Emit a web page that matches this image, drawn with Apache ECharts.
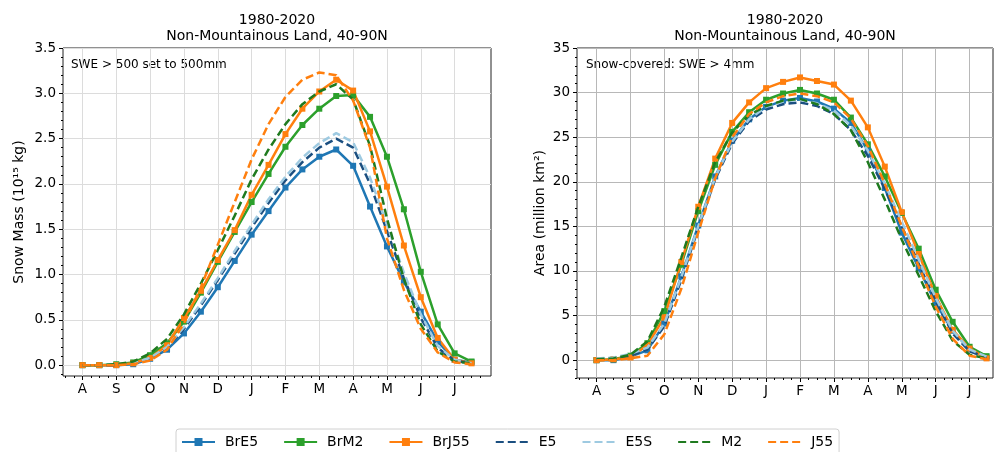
<!DOCTYPE html>
<html lang="en">
<head>
    <meta charset="UTF-8">
    <title>Snow Mass / Area 1980-2020</title>
    <script src="https://cdn.jsdelivr.net/npm/echarts@6/dist/echarts.min.js"></script>
    <style>
        html, body { margin: 0; padding: 0; background: #fff; }
        #main { width: 995px; height: 452px; }
    </style>
</head>
<body>
<div id="main"></div>
<script>
    // month tick labels (Aug .. Jul), points are twice a month
    var monthLabels = ['A', 'S', 'O', 'N', 'D', 'J', 'F', 'M', 'A', 'M', 'J', 'J'];
    var xPos = [0, 0.5, 1, 1.5, 2, 2.5, 3, 3.5, 4, 4.5, 5, 5.5, 6, 6.5, 7, 7.5, 8, 8.5, 9, 9.5, 10, 10.5, 11, 11.5];

    // left panel: snow mass (10^15 kg)
    var massBrE5  = [0.00, 0.00, 0.00, 0.01, 0.07, 0.17, 0.35, 0.59, 0.86, 1.15, 1.44, 1.70, 1.96, 2.16, 2.30, 2.38, 2.20, 1.75, 1.31, 0.92, 0.59, 0.26, 0.06, 0.03];
    var massBrM2  = [0.00, 0.00, 0.01, 0.03, 0.11, 0.24, 0.48, 0.80, 1.14, 1.47, 1.80, 2.11, 2.41, 2.65, 2.83, 2.97, 2.98, 2.74, 2.30, 1.72, 1.03, 0.45, 0.13, 0.04];
    var massBrJ55 = [0.00, 0.00, 0.00, 0.02, 0.08, 0.22, 0.52, 0.82, 1.16, 1.49, 1.88, 2.21, 2.55, 2.83, 3.02, 3.15, 3.03, 2.58, 1.97, 1.32, 0.75, 0.30, 0.06, 0.02];
    var massE5    = [0.00, 0.00, 0.00, 0.02, 0.07, 0.19, 0.40, 0.66, 0.94, 1.23, 1.52, 1.79, 2.04, 2.24, 2.40, 2.50, 2.40, 2.00, 1.48, 0.96, 0.52, 0.19, 0.05, 0.02];
    var massE5S   = [0.00, 0.00, 0.01, 0.02, 0.08, 0.20, 0.42, 0.68, 0.96, 1.26, 1.55, 1.83, 2.08, 2.29, 2.45, 2.56, 2.46, 2.07, 1.55, 1.02, 0.56, 0.21, 0.06, 0.02];
    var massM2    = [0.00, 0.00, 0.01, 0.04, 0.13, 0.29, 0.56, 0.90, 1.27, 1.65, 2.05, 2.38, 2.66, 2.88, 3.02, 3.10, 2.93, 2.42, 1.62, 0.95, 0.45, 0.15, 0.04, 0.02];
    var massJ55   = [0.00, 0.00, 0.00, 0.01, 0.05, 0.17, 0.46, 0.86, 1.33, 1.80, 2.27, 2.66, 2.96, 3.15, 3.23, 3.20, 2.92, 2.40, 1.40, 0.83, 0.40, 0.14, 0.03, 0.01];

    // right panel: snow-covered area (million km2)
    var areaBrE5  = [0.0, 0.0, 0.4, 1.1, 4.1, 9.4, 15.1, 20.6, 24.6, 27.0, 28.4, 29.1, 29.4, 29.0, 28.2, 26.6, 23.5, 19.3, 14.3, 10.3, 6.4, 3.3, 1.2, 0.3];
    var areaBrM2  = [0.0, 0.1, 0.5, 1.9, 5.5, 10.7, 16.7, 21.9, 25.6, 27.8, 29.2, 29.9, 30.3, 29.9, 29.2, 27.2, 24.2, 20.6, 16.5, 12.5, 7.9, 4.3, 1.5, 0.45];
    var areaBrJ55 = [0.0, 0.1, 0.3, 1.7, 4.8, 11.0, 17.2, 22.6, 26.6, 28.9, 30.5, 31.2, 31.7, 31.3, 30.9, 29.1, 26.1, 21.7, 16.6, 11.9, 7.2, 3.4, 1.3, 0.2];
    var areaE5    = [0.1, 0.2, 0.5, 1.2, 3.8, 9.0, 14.8, 20.3, 24.3, 26.8, 28.1, 28.7, 28.9, 28.5, 27.6, 25.8, 22.9, 19.2, 15.0, 10.8, 6.6, 3.0, 1.0, 0.3];
    var areaE5S   = [0.2, 0.3, 0.7, 1.4, 4.1, 9.3, 15.0, 20.5, 24.5, 27.0, 28.4, 29.0, 29.2, 28.8, 28.0, 26.3, 23.5, 19.8, 15.5, 11.3, 7.0, 3.3, 1.2, 0.4];
    var areaM2    = [0.1, 0.2, 0.6, 2.1, 6.0, 11.5, 17.2, 22.2, 25.5, 27.5, 28.5, 29.1, 29.3, 28.7, 27.6, 25.8, 22.2, 18.0, 13.5, 9.5, 5.5, 2.2, 0.6, 0.2];
    var areaJ55   = [0.0, 0.0, 0.2, 0.5, 2.9, 8.0, 14.3, 20.4, 25.0, 27.6, 28.9, 29.6, 29.9, 29.6, 28.9, 27.1, 24.0, 19.8, 15.0, 10.5, 6.0, 2.4, 0.5, 0.1];

    var massTicks = [0, 0.5, 1, 1.5, 2, 2.5, 3, 3.5];
    var areaTicks = [0, 5, 10, 15, 20, 25, 30, 35];
    var monthTicks = [0, 1, 2, 3, 4, 5, 6, 7, 8, 9, 10, 11];

    var FONT = 'DejaVu Sans';

    // minor tick positions (axis decoration only)
    function minorList(from, to, step, skip) {
        var out = [];
        for (var v = from; v <= to + 1e-9; v += step) {
            var r = Math.round(v * 1000) / 1000;
            if (Math.abs(r / skip - Math.round(r / skip)) > 1e-6) out.push(r);
        }
        return out;
    }

    function pairs(ys) {
        return xPos.map(function (x, i) { return [x, ys[i]]; });
    }

    var styles = {
        BrE5:  { color: '#1f77b4', solid: true },
        BrM2:  { color: '#2ca02c', solid: true },
        BrJ55: { color: '#ff7f0e', solid: true },
        E5:    { color: '#1b4f80', solid: false },
        E5S:   { color: '#9ecae1', solid: false },
        M2:    { color: '#1f7a1f', solid: false },
        J55:   { color: '#ff7f0e', solid: false }
    };

    function makeSeries(name, ys, idx) {
        var st = styles[name];
        return {
            name: name,
            type: 'line',
            xAxisIndex: idx * 2,
            yAxisIndex: idx * 2,
            data: pairs(ys),
            symbol: st.solid ? 'rect' : 'circle',
            symbolSize: 6,
            showSymbol: st.solid,
            color: st.color,
            lineStyle: { width: 2.5, color: st.color, type: st.solid ? 'solid' : [8, 4] },
            // dashed series: invisible marker so the legend shows only the dashes
            itemStyle: { color: st.solid ? st.color : 'rgba(0,0,0,0)' },
            emphasis: { disabled: true },
            animation: false,
            z: st.solid ? 2 : 3
        };
    }

    function mainX(grid, max, splitColor) {
        return {
            type: 'value', gridIndex: grid, min: -0.575, max: max, position: 'bottom',
            axisLine: { show: false, onZero: false },
            axisTick: { show: true, length: 4, lineStyle: { color: '#000' }, customValues: monthTicks },
            axisLabel: {
                customValues: monthTicks, margin: 6, color: '#000', fontFamily: FONT, fontSize: 13.5,
                formatter: function (v) { return monthLabels[Math.round(v)] || ''; }
            },
            splitLine: { show: true, lineStyle: { color: splitColor, width: 1 } }
        };
    }
    function minorX(grid, max) {
        return {
            type: 'value', gridIndex: grid, min: -0.575, max: max, position: 'bottom',
            axisLine: { show: false, onZero: false },
            axisTick: { show: true, length: 2, lineStyle: { color: '#000' }, customValues: minorList(-0.5, max, 0.25, 1) },
            axisLabel: { show: false },
            splitLine: { show: false }
        };
    }
    function mainY(grid, min, max, ticks, name, gap, splitColor, fmt) {
        return {
            type: 'value', gridIndex: grid, min: min, max: max, position: 'left',
            name: name, nameLocation: 'middle', nameGap: gap,
            nameTextStyle: { color: '#000', fontFamily: FONT, fontSize: 14 },
            axisLine: { show: false, onZero: false },
            axisTick: { show: true, length: 4, lineStyle: { color: '#000' }, customValues: ticks },
            axisLabel: { customValues: ticks, margin: 7, color: '#000', fontFamily: FONT, fontSize: 13.5, formatter: fmt },
            splitLine: { show: true, lineStyle: { color: splitColor, width: 1 } }
        };
    }
    function minorY(grid, min, max, step, skip) {
        return {
            type: 'value', gridIndex: grid, min: min, max: max, position: 'left',
            axisLine: { show: false, onZero: false },
            axisTick: { show: true, length: 2, lineStyle: { color: '#000' }, customValues: minorList(step * Math.ceil(min / step), max, step, skip) },
            axisLabel: { show: false },
            splitLine: { show: false }
        };
    }

    var names = ['BrE5', 'BrM2', 'BrJ55', 'E5', 'E5S', 'M2', 'J55'];
    var massData = [massBrE5, massBrM2, massBrJ55, massE5, massE5S, massM2, massJ55];
    var areaData = [areaBrE5, areaBrM2, areaBrJ55, areaE5, areaE5S, areaM2, areaJ55];

    var series = [];
    names.forEach(function (n, i) { series.push(makeSeries(n, massData[i], 0)); });
    names.forEach(function (n, i) { series.push(makeSeries(n, areaData[i], 1)); });

    var option = {
        backgroundColor: '#fff',
        animation: false,
        textStyle: { fontFamily: FONT },
        title: [
            {
                text: '1980-2020\nNon-Mountainous Land, 40-90N', left: 277, top: 12, textAlign: 'center', padding: 0,
                textStyle: { fontFamily: FONT, fontSize: 14, fontWeight: 'normal', color: '#000', lineHeight: 16 }
            },
            {
                text: '1980-2020\nNon-Mountainous Land, 40-90N', left: 785, top: 12, textAlign: 'center', padding: 0,
                textStyle: { fontFamily: FONT, fontSize: 14, fontWeight: 'normal', color: '#000', lineHeight: 16 }
            }
        ],
        grid: [
            { left: 63, top: 48, width: 428, height: 328, show: true, borderColor: '#222', borderWidth: 1, backgroundColor: 'transparent' },
            { left: 577, top: 48, width: 416, height: 330, show: true, borderColor: '#222', borderWidth: 1, backgroundColor: 'transparent' }
        ],
        xAxis: [
            mainX(0, 12.075, '#dcdcdc'), minorX(0, 12.075),
            mainX(1, 11.69, '#b8b8b8'), minorX(1, 11.69)
        ],
        yAxis: [
            mainY(0, -0.12, 3.5, massTicks, 'Snow Mass (10¹⁵ kg)', 37, '#dcdcdc', function (v) { return v.toFixed(1); }),
            minorY(0, -0.12, 3.5, 0.1, 0.5),
            mainY(1, -2, 35, areaTicks, 'Area (million km²)', 30, '#b8b8b8', function (v) { return String(v); }),
            minorY(1, -2, 35, 1, 5)
        ],
        legend: {
            data: names,
            left: 176, top: 429,
            orient: 'horizontal',
            padding: [6, 6, 6, 5],
            itemWidth: 33, itemHeight: 10, itemGap: 25,
            backgroundColor: '#fff', borderColor: '#d0d0d0', borderWidth: 1, borderRadius: 3,
            textStyle: { fontFamily: FONT, fontSize: 14, color: '#000', padding: [0, 0, 0, 5] }
        },
        graphic: [
            { type: 'text', left: 71, top: 59, style: { text: 'SWE > 500 set to 500mm', fontFamily: FONT, fontSize: 12, fill: '#000' } },
            { type: 'text', left: 586, top: 59, style: { text: 'Snow-covered: SWE > 4mm', fontFamily: FONT, fontSize: 12, fill: '#000' } }
        ],
        series: series
    };

    var myChart = echarts.init(document.getElementById('main'));
    myChart.setOption(option);
</script>
</body>
</html>
